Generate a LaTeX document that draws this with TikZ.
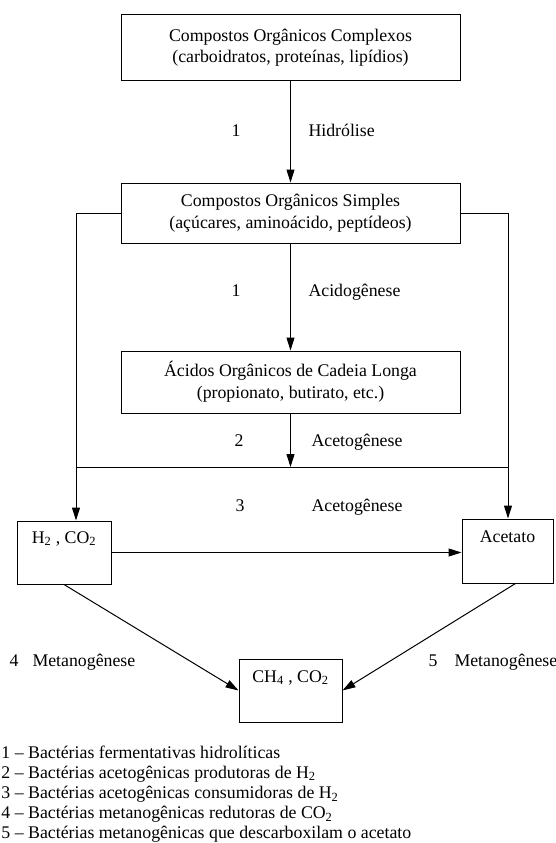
\documentclass[tikz,border=0pt]{standalone}
\usepackage{fontspec}
\setmainfont{Liberation Serif}
\usetikzlibrary{arrows.meta,positioning,calc}

\begin{document}
\begin{tikzpicture}[x=1pt, y=-1pt, ->, >={Triangle[length=13pt,width=8pt]}, line width=1pt, font=\fontsize{17.8}{21.5}\selectfont]
\tikzstyle{caixa}=[draw=black, line width=1pt, align=center, inner sep=0pt]
\tikzstyle{rotulo}=[inner sep=0pt, anchor=base west]
\tikzstyle{num}=[inner sep=0pt, anchor=base]
\useasboundingbox (0,0) rectangle (556,843);
\node[caixa, minimum width=339, minimum height=65] (complexos) at (290.5,47.5) {Compostos Orgânicos Complexos\\(carboidratos, proteínas, lipídios)};
\node[caixa, minimum width=339, minimum height=60] (simples) at (290.5,213) {Compostos Orgânicos Simples\\(açúcares, aminoácido, peptídeos)};
\node[caixa, minimum width=339, minimum height=62] (acidos) at (290.5,382) {Ácidos Orgânicos de Cadeia Longa\\(propionato, butirato, etc.)};
\node[caixa, minimum width=94, minimum height=63] (h2) at (64,552.5) {};
\node[caixa, minimum width=91, minimum height=64] (acetato) at (507.5,551) {};
\node[caixa, minimum width=103, minimum height=63] (ch4) at (290.5,690.5) {};
\node (h2txt) at ($(h2.north)+(0,18)$) {H\textsubscript{2} , CO\textsubscript{2}};
\node (acetatotxt) at ($(acetato.north)+(0,18)$) {Acetato};
\node (ch4txt) at ($(ch4.north)+(0,19)$) {CH\textsubscript{4} , CO\textsubscript{2}};
\node[num] (n1) at (236,136) {1};
\node[rotulo] (hidrolise) at (308,136) {Hidrólise};
\node[num] (n2) at (236,296) {1};
\node[rotulo] (acidogenese) at (308,296) {Acidogênese};
\node[num] (n3) at (239,446) {2};
\node[rotulo] (acetogenese1) at (311,446) {Acetogênese};
\node[num] (n4) at (240,511) {3};
\node[rotulo] (acetogenese2) at (311,511) {Acetogênese};
\node[num] (n5) at (14,666) {4};
\node[rotulo] (metano1) at (32,666) {Metanogênese};
\node[num] (n6) at (433,666) {5};
\node[rotulo] (metano2) at (454,666) {Metanogênese};
\foreach \i/\t in {1/fermentativas hidrolíticas, 2/acetogênicas produtoras de H\textsubscript{2}, 3/acetogênicas consumidoras de H\textsubscript{2}, 4/metanogênicas redutoras de CO\textsubscript{2}, 5/metanogênicas que descarboxilam o acetato}
  \node[rotulo] (leg\i) at (1,{737.8+20.2*\i}) {\i{} – Bactérias \t};
\coordinate (esq) at (76,467);
\coordinate (dir) at (508,467);
\path (complexos) edge (simples)
      (simples) edge (acidos);
\draw[-] (esq) -- (dir);
\draw (acidos.south) -- (acidos.south |- esq);
\draw (simples.west) -| (esq |- h2.north);
\draw (simples.east) -| (dir |- acetato.north);
\draw (h2.east) -- (h2.east -| acetato.west);
\draw (h2.south) -- (ch4.west);
\draw ([xshift=8]acetato.south) -- (ch4.east);
\end{tikzpicture}
\end{document}
